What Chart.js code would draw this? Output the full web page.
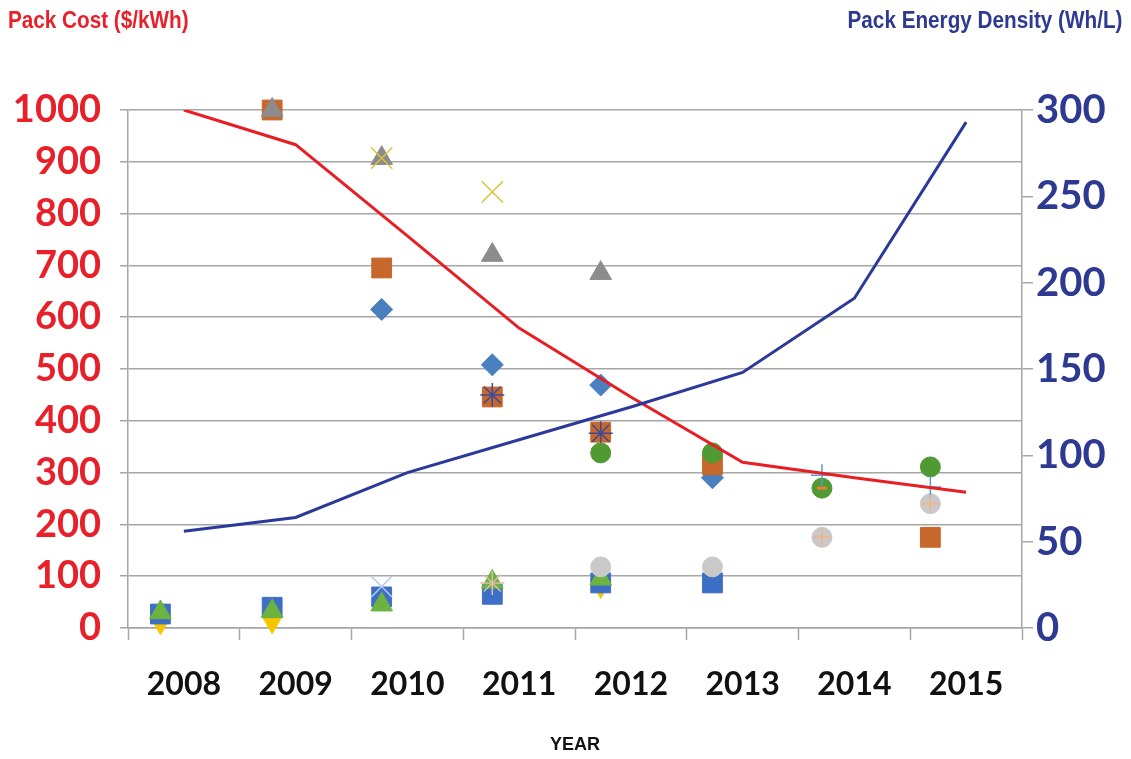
<!DOCTYPE html>
<html>
<head>
<meta charset="utf-8">
<title>Pack Cost and Pack Energy Density</title>
<script src="https://cdn.jsdelivr.net/npm/chart.js@4.4.1/dist/chart.umd.min.js"></script>
<style>
  html, body { margin: 0; padding: 0; background: #fff; }
  #wrap { position: relative; width: 1131px; height: 759px; }
  .hdr {
    position: absolute;
    top: 7px;
    font-family: 'Liberation Sans Narrow', 'Liberation Sans', Arial, sans-serif;
    font-weight: bold;
    font-size: 23px;
    transform: scaleX(0.9);
  }
  #costLabel { left: 8px; color: #e8202a; transform-origin: left top; }
  #densityLabel { right: 9px; color: #2e3a92; transform-origin: right top; }
</style>
</head>
<body>
<div id="wrap">
  <canvas id="chart" width="1131" height="759"></canvas>
  <div class="hdr" id="costLabel">Pack Cost ($/kWh)</div>
  <div class="hdr" id="densityLabel">Pack Energy Density (Wh/L)</div>
</div>
<script>
// Trend lines (one value per year)
const years = [2008, 2009, 2010, 2011, 2012, 2013, 2014, 2015];
const packCost = [1000, 933, 757, 579, 446, 320, 290, 262];      // left axis, $/kWh
const packDensity = [56, 64, 90, 109, 128, 148, 191, 293];       // right axis, Wh/L

// Scatter points are plotted slightly left of each year
const pointYears = [2007.79, 2008.79, 2009.77, 2010.76, 2011.73, 2012.73, 2013.71, 2014.68];
const blueDiamond    = [null, null, 615, 508, 469, 290, null, null];
const orangeSquare   = [null, 1000, 695, 446, 378, 315, null, 175];
const grayTriangle   = [null, 1000, 907, 720, 685, null, null, null];
const yellowCross    = [null, null, 907, 842, null, null, null, null];
const navyStar       = [null, null, null, 450, 376, null, null, null];
const greenCircle    = [null, null, null, null, 338, 338, 270, 311];
const goldTriangle   = [10, 12, null, null, 80, null, null, null];
const blueSquare     = [27, 40, 60, 65, 87, 87, null, null];
const greenTriangle  = [30, 32, 45, 89, 95, null, null, null];
const paleBlueCross  = [null, null, 80, null, null, null, null, null];
const tanStar        = [null, null, null, 87, null, null, null, null];
const grayCircle     = [null, null, null, null, 118, 118, 175, 240];
const bluePlus       = [null, null, null, null, null, null, 295, 272];
const orangeDash     = [null, null, null, null, null, null, 270, null];
const tanPlus        = [null, null, null, null, null, null, 175, 240];

// Axis ticks
const costTicks = [0, 100, 200, 300, 400, 500, 600, 700, 800, 900, 1000];
const densityTicks = [0, 50, 100, 150, 200, 250, 300];
const yearEdges = [2007.5, 2008.5, 2009.5, 2010.5, 2011.5, 2012.5, 2013.5, 2014.5, 2015.5];

const gridGray = '#a6a6a6';

function toPoints(values) {
    return values.map(function(v, i) {
        return { x: pointYears[i], y: v };
    });
}

function lineData(values) {
    return values.map(function(v, i) {
        return { x: years[i], y: v };
    });
}

// one scatter series, listed bottom to top
function marker(values, style, color, radius, opts) {
    const ds = {
        type: 'scatter',
        data: toPoints(values),
        yAxisID: 'y',
        pointStyle: style,
        pointRadius: radius,
        backgroundColor: color,
        borderColor: color,
        borderWidth: 1,
        clip: false
    };
    return Object.assign(ds, opts || {});
}

const markers = [
    marker(blueDiamond, 'rectRot', '#4a7fc0', 11),
    marker(orangeSquare, 'rect', '#c8672b', 14),
    marker(grayTriangle, 'triangle', '#8c8c8c', 12.5),
    marker(yellowCross, 'crossRot', '#d9c23a', 15, { borderWidth: 1.5 }),
    marker(navyStar, 'star', '#3c4a9c', 12, { borderWidth: 1.5 }),
    marker(greenCircle, 'circle', '#4f9a32', 10),
    marker(goldTriangle, 'triangle', '#f7c600', 12, { rotation: 180 }),
    marker(blueSquare, 'rect', '#3d6fc6', 14),
    marker(greenTriangle, 'triangle', '#6cb33f', 12.5),
    marker(paleBlueCross, 'crossRot', '#b5cbe8', 15, { borderWidth: 1.5 }),
    marker(tanStar, 'star', '#dcbcaa', 12, { borderWidth: 1.5 }),
    marker(grayCircle, 'circle', '#c9c9c9', 10),
    marker(bluePlus, 'cross', '#5b9bd5', 11, { borderWidth: 1.5 }),
    marker(orangeDash, 'line', '#ed7d31', 5, { borderWidth: 3 }),
    marker(tanPlus, 'cross', '#f4b183', 9, { borderWidth: 1.5 })
];

// later markers sit on top, the two lines above everything
markers.forEach(function(ds, i) {
    ds.order = 100 - i;
});

const datasets = [
    {
        type: 'line',
        label: 'Pack Cost',
        data: lineData(packCost),
        yAxisID: 'y',
        borderColor: '#e81e25',
        borderWidth: 3,
        pointRadius: 0,
        tension: 0,
        order: 1
    },
    {
        type: 'line',
        label: 'Pack Energy Density',
        data: lineData(packDensity),
        yAxisID: 'y2',
        borderColor: '#2b3a9a',
        borderWidth: 3,
        pointRadius: 0,
        tension: 0,
        order: 0
    }
].concat(markers);

new Chart(document.getElementById('chart').getContext('2d'), {
    data: { datasets: datasets },
    options: {
        responsive: false,
        animation: false,
        layout: { padding: { top: 110, left: 0, right: 0, bottom: 0 } },
        plugins: {
            legend: { display: false },
            tooltip: { enabled: false }
        },
        scales: {
            x: {
                type: 'linear',
                min: 2007.5,
                max: 2015.5,
                afterBuildTicks: function(scale) {
                    const ticks = [];
                    yearEdges.forEach(function(e) { ticks.push({ value: e }); });
                    years.forEach(function(y) { ticks.push({ value: y }); });
                    ticks.sort(function(a, b) { return a.value - b.value; });
                    scale.ticks = ticks;
                },
                afterFit: function(scale) { scale.height = 131; },
                grid: {
                    drawOnChartArea: false,
                    tickLength: 12,
                    tickWidth: 1.5,
                    tickColor: function(ctx) {
                        return Number.isInteger(ctx.tick.value) ? 'rgba(0,0,0,0)' : gridGray;
                    }
                },
                border: { display: true, color: gridGray, width: 1.5 },
                ticks: {
                    autoSkip: false,
                    maxRotation: 0,
                    padding: 25,
                    color: '#111',
                    font: { family: 'Lato', weight: 'bold', size: 32 },
                    callback: function(v) { return Number.isInteger(v) ? String(v) : ''; }
                },
                title: {
                    display: true,
                    text: 'YEAR',
                    color: '#111',
                    padding: { top: 0, bottom: 3 },
                    font: { family: 'Liberation Sans', weight: 'bold', size: 18 }
                }
            },
            y: {
                position: 'left',
                min: 0,
                max: 1000,
                afterBuildTicks: function(scale) {
                    scale.ticks = costTicks.map(function(v) { return { value: v }; });
                },
                afterFit: function(scale) { scale.width = 128; },
                grid: { color: gridGray, lineWidth: 1.5, tickLength: 8 },
                border: { display: true, color: gridGray, width: 1.5 },
                ticks: {
                    padding: 19,
                    color: '#e8202a',
                    font: { family: 'Lato', weight: 'bold', size: 38 },
                    callback: function(v) { return String(v); }
                }
            },
            y2: {
                position: 'right',
                min: 0,
                max: 300,
                afterBuildTicks: function(scale) {
                    scale.ticks = densityTicks.map(function(v) { return { value: v }; });
                },
                afterFit: function(scale) { scale.width = 109; },
                grid: { drawOnChartArea: false, color: gridGray, lineWidth: 1.5, tickLength: 11 },
                border: { display: true, color: gridGray, width: 1.5 },
                ticks: {
                    padding: 3,
                    color: '#2e3a92',
                    font: { family: 'Lato', weight: 'bold', size: 40 },
                    callback: function(v) { return String(v); }
                }
            }
        }
    }
});
</script>
</body>
</html>
